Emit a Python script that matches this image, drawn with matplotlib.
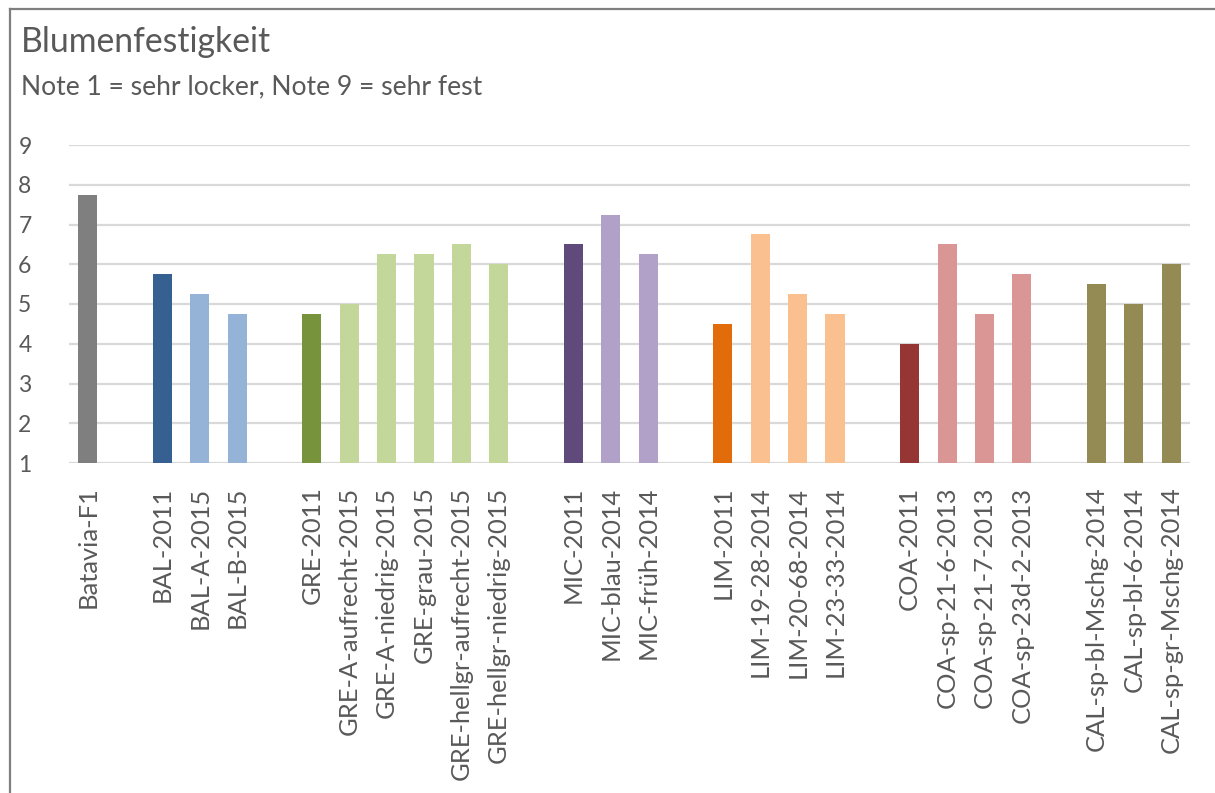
import matplotlib
matplotlib.use("Agg")
import matplotlib.pyplot as plt
from matplotlib.lines import Line2D

# Sorten / Linien, None = Lücke zwischen den Gruppen
sorten = ["Batavia-F1", None,
          "BAL-2011", "BAL-A-2015", "BAL-B-2015", None,
          "GRE-2011", "GRE-A-aufrecht-2015", "GRE-A-niedrig-2015", "GRE-grau-2015",
          "GRE-hellgr-aufrecht-2015", "GRE-hellgr-niedrig-2015", None,
          "MIC-2011", "MIC-blau-2014", "MIC-früh-2014", None,
          "LIM-2011", "LIM-19-28-2014", "LIM-20-68-2014", "LIM-23-33-2014", None,
          "COA-2011", "COA-sp-21-6-2013", "COA-sp-21-7-2013", "COA-sp-23d-2-2013", None,
          "CAL-sp-bl-Mschg-2014", "CAL-sp-bl-6-2014", "CAL-sp-gr-Mschg-2014"]
noten = [7.75, None,
         5.75, 5.25, 4.75, None,
         4.75, 5.0, 6.25, 6.25, 6.5, 6.0, None,
         6.5, 7.25, 6.25, None,
         4.5, 6.75, 5.25, 4.75, None,
         4.0, 6.5, 4.75, 5.75, None,
         5.5, 5.0, 6.0]
farben = ["#7f7f7f", None,
          "#366092", "#95b3d7", "#95b3d7", None,
          "#77933c", "#c4d79b", "#c4d79b", "#c4d79b", "#c4d79b", "#c4d79b", None,
          "#604a7b", "#b1a0c7", "#b1a0c7", None,
          "#e26b0a", "#fac090", "#fac090", "#fac090", None,
          "#963634", "#da9694", "#da9694", "#da9694", None,
          "#948a54", "#948a54", "#948a54"]

titel = "Blumenfestigkeit"
untertitel = "Note 1 = sehr locker, Note 9 = sehr fest"

plt.rcParams['font.family'] = ['Lato', 'DejaVu Sans']
grau = "#595959"

W, H = 1215, 793
fig = plt.figure(figsize=(W / 100, H / 100), dpi=100)
renderer = fig.canvas.get_renderer()


def groesse(text, breite_px, basis=20.0):
    # Schriftgröße so wählen, dass der Text etwa breite_px Pixel breit ist
    t = fig.text(0, 0, text, fontsize=basis)
    w = t.get_window_extent(renderer).width
    t.remove()
    return basis * breite_px / w


fs_titel = groesse(titel, 251)
fs_unter = groesse(untertitel, 462)
fs_ticks = groesse("GRE-hellgr-aufrecht-2015", 294)

ax = fig.add_axes([69 / W, (H - 463) / H, (1190 - 69) / W, (463 - 145) / H])

pos = [i for i, s in enumerate(sorten) if s is not None]
werte = [noten[i] for i in pos]
cols = [farben[i] for i in pos]
ax.bar(pos, [w - 1 for w in werte], bottom=1, width=0.51, color=cols, zorder=3)

ax.set_xlim(-0.5, len(sorten) - 0.5)
ax.set_ylim(1, 9)
ax.set_yticks(range(1, 10))
ax.set_xticks(pos)
ax.set_xticklabels([sorten[i] for i in pos], rotation=90, va="top", ha="center")
ax.tick_params(axis="x", length=0, pad=17, labelsize=fs_ticks, labelcolor=grau)
ax.tick_params(axis="y", length=0, pad=27, labelsize=16.5, labelcolor=grau)

ax.grid(axis="y", color="#d9d9d9", linewidth=1.6, zorder=0)
for s in ax.spines.values():
    s.set_visible(False)

# Titel
fig.text(21 / W, 1 - 52 / H, titel, fontsize=fs_titel, color=grau,
         va="baseline", ha="left")
fig.text(21 / W, 1 - 94 / H, untertitel, fontsize=fs_unter, color=grau,
         va="baseline", ha="left")

# Rahmen oben und links
fig.add_artist(Line2D([10 / W, 10 / W], [0, 1 - 9 / H], transform=fig.transFigure,
                      color="#7f7f7f", linewidth=1.6))
fig.add_artist(Line2D([10 / W, 1], [1 - 9 / H, 1 - 9 / H], transform=fig.transFigure,
                      color="#7f7f7f", linewidth=1.6))

fig.savefig("out.png", dpi=100, facecolor="white")
